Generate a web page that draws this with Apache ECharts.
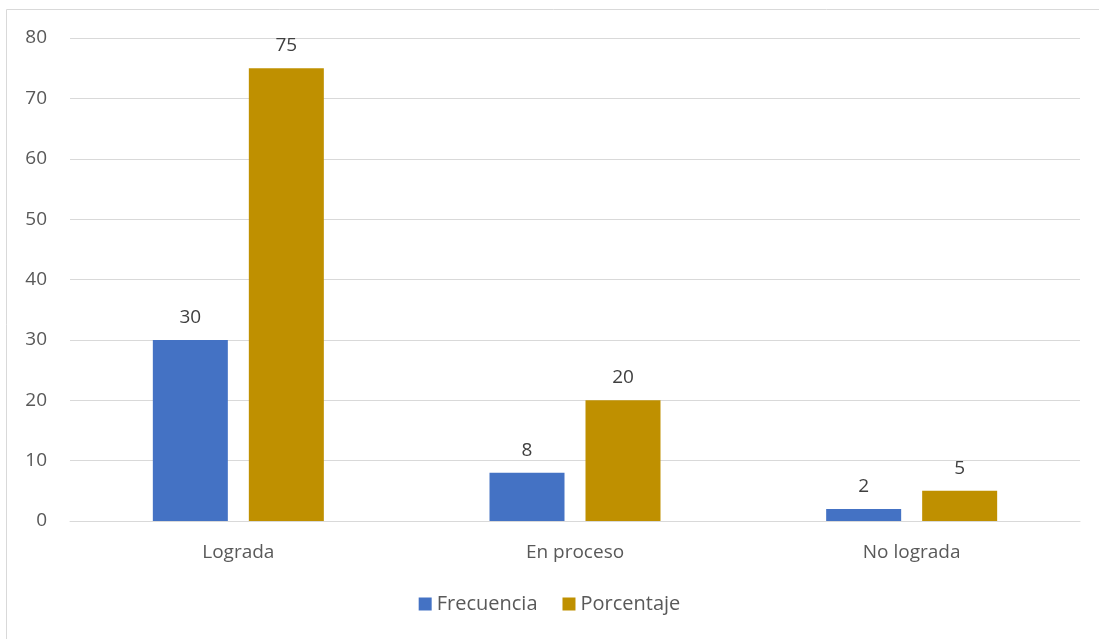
<!DOCTYPE html>
<html>
<head>
<meta charset="utf-8">
<script src="https://cdn.jsdelivr.net/npm/echarts@6/dist/echarts.min.js"></script>
<style>
  html, body { margin: 0; padding: 0; background: #fff; }
  #chart { width: 1099px; height: 639px; }
</style>
</head>
<body>
<div id="chart"></div>
<script>
// Nivel de logro: frecuencia y porcentaje por categoría
const categories = ['Lograda', 'En proceso', 'No lograda'];
const frecuencia = [30, 8, 2];
const porcentaje = [75, 20, 5];
const yTicks = { min: 0, max: 80, interval: 10 };

const FONT = 'Open Sans';
const TEXT = '#595959';

const chart = echarts.init(document.getElementById('chart'));

const labelStyle = {
  show: true,
  position: 'top',
  distance: 13,
  color: '#404040',
  fontFamily: FONT,
  fontSize: 19
};

chart.setOption({
  animation: false,
  textStyle: { fontFamily: FONT },
  graphic: [{
    type: 'rect',
    shape: { x: 6.5, y: 9.5, width: 1200, height: 700 },
    style: { fill: 'none', stroke: '#d9d9d9', lineWidth: 1 },
    silent: true
  }],
  grid: { left: 70, right: 19, top: 38, bottom: 118 },
  legend: {
    bottom: 20,
    left: 'center',
    itemWidth: 13,
    itemHeight: 13,
    itemGap: 25,
    icon: 'rect',
    textStyle: { color: TEXT, fontFamily: FONT, fontSize: 20 },
    data: ['Frecuencia', 'Porcentaje']
  },
  xAxis: {
    type: 'category',
    data: categories,
    axisLine: { lineStyle: { color: '#d9d9d9', width: 1 } },
    axisTick: { show: false },
    axisLabel: { color: TEXT, fontFamily: FONT, fontSize: 19, margin: 22 }
  },
  yAxis: {
    type: 'value',
    min: yTicks.min,
    max: yTicks.max,
    interval: yTicks.interval,
    axisLine: { show: false },
    axisTick: { show: false },
    axisLabel: { color: TEXT, fontFamily: FONT, fontSize: 19, margin: 23 },
    splitLine: { lineStyle: { color: '#d9d9d9', width: 1 } }
  },
  series: [
    {
      name: 'Frecuencia',
      type: 'bar',
      data: frecuencia,
      barWidth: 75,
      barGap: '28%',
      itemStyle: { color: '#4472C4' },
      label: labelStyle
    },
    {
      name: 'Porcentaje',
      type: 'bar',
      data: porcentaje,
      barWidth: 75,
      itemStyle: { color: '#BF9000' },
      label: labelStyle
    }
  ]
});
</script>
</body>
</html>
